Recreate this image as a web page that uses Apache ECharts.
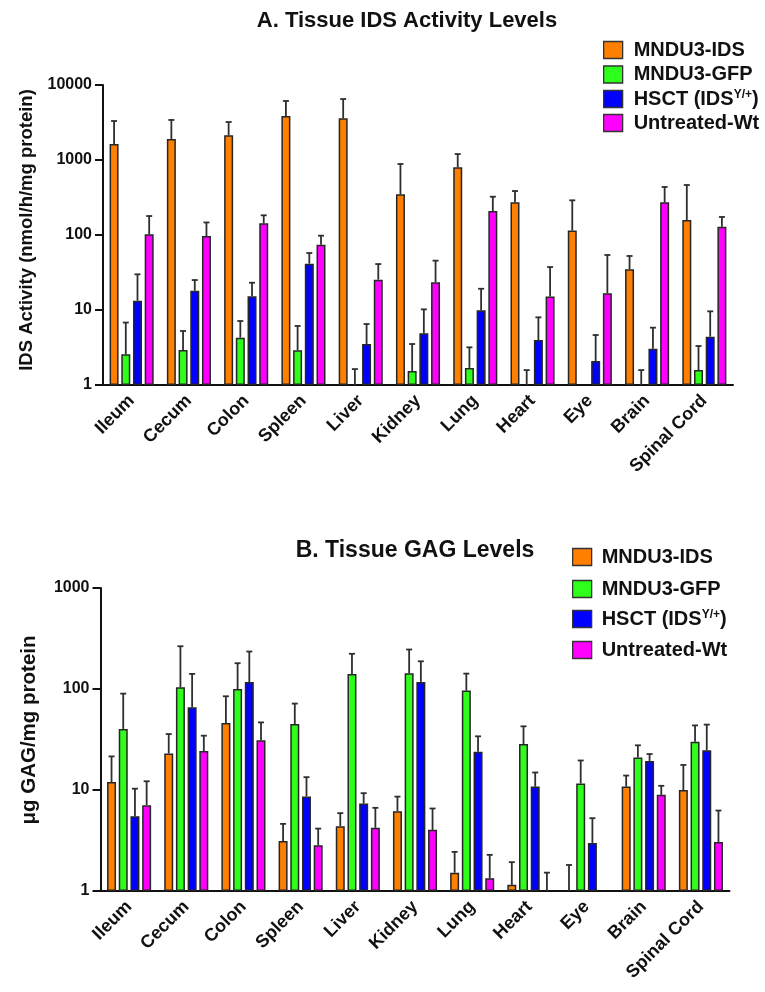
<!DOCTYPE html>
<html>
<head>
<meta charset="utf-8">
<script src="https://cdn.jsdelivr.net/npm/echarts@6/dist/echarts.min.js"></script>
<style>
html,body{margin:0;padding:0;background:#fff;}
#main{width:765px;height:992px;}
</style>
</head>
<body>
<div id="main"></div>
<script>
// ---------- DATA ----------
const categories = ['Ileum','Cecum','Colon','Spleen','Liver','Kidney','Lung','Heart','Eye','Brain','Spinal Cord'];
const seriesNames = ['MNDU3-IDS','MNDU3-GFP','HSCT (IDS Y/+)','Untreated-Wt'];
const yTicksA = [1, 10, 100, 1000, 10000];
const yTicksB = [1, 10, 100, 1000];

// A. Tissue IDS activity (nmol/h/mg protein): means and upper error-bar ends
const idsA     = [1630, 1900, 2130, 3860, 3590, 349, 798, 273, 115, 35, 158];
const idsAErr  = [3310, 3420, 3210, 6120, 6500, 885, 1200, 386, 290, 52.5, 464];
const gfpA     = [2.57, 2.93, 4.27, 2.9, null, 1.54, 1.69, null, null, null, 1.58];
const gfpAErr  = [6.8, 5.25, 7.13, 6.12, 1.63, 3.52, 3.18, 1.58, null, 1.58, 3.31];
const hsctA    = [13.3, 18.1, 15.2, 41.5, 3.52, 4.89, 9.9, 3.98, 2.09, 3.05, 4.41];
const hsctAErr = [29.9, 25.1, 23.1, 57.5, 6.5, 10.2, 19.2, 7.98, 4.64, 5.81, 9.6];
const wtA      = [102, 97, 143, 74.3, 25.4, 23.4, 209, 15.1, 16.7, 273, 129];
const wtAErr   = [179, 147, 183, 98, 41, 45.5, 324, 37.4, 54.1, 437, 174];

// B. Tissue GAG levels (ug GAG/mg protein)
const idsB     = [12.0, 23.0, 46.1, 3.13, 4.38, 6.17, 1.52, 1.15, null, 10.8, 10.0];
const idsBErr  = [21.5, 35.8, 84.7, 4.62, 5.9, 8.6, 2.44, 1.93, 1.81, 13.9, 17.7];
const gfpB     = [40.2, 104, 100, 45, 141, 143, 96.4, 28.5, 11.6, 21, 30];
const gfpBErr  = [90, 265, 180, 71.7, 223, 246, 142, 42.7, 19.6, 27.7, 43.6];
const hsctB    = [5.51, 65.9, 117, 8.63, 7.35, 117.6, 23.9, 10.8, 2.99, 19.4, 24.7];
const hsctBErr = [10.3, 141, 235, 13.4, 9.3, 188, 34, 14.9, 5.26, 22.7, 44.4];
const wtB      = [7.08, 24.3, 31, 2.84, 4.22, 4.03, 1.34, null, null, 8.96, 3.06];
const wtBErr   = [12.2, 34.5, 46.7, 4.15, 6.66, 6.56, 2.28, 1.52, null, 11, 6.26];

// ---------- STYLE ----------
const FONT = 'Liberation Sans, Arial, Helvetica, sans-serif';
const colors = ['#FF7F00', '#2EFF1A', '#0000FF', '#FF00FF'];
const BAR_W = 9;
const GAP = 0.3;
const CAP = 3;
const INK = '#111';

function barSeries(k, data, g) {
  return {
    type: 'bar', name: seriesNames[k], data: data,
    xAxisIndex: g, yAxisIndex: g,
    barWidth: BAR_W, barGap: (GAP * 100) + '%',
    itemStyle: { color: colors[k], borderColor: '#262626', borderWidth: 1.5 },
    z: 3, silent: true
  };
}
function errSeries(k, means, tops, g) {
  const data = [];
  tops.forEach((t, i) => { if (t != null) data.push([i, t, means[i] == null ? null : means[i]]); });
  return {
    type: 'custom', name: 'err' + g + '_' + k, data: data,
    xAxisIndex: g, yAxisIndex: g, z: 2, silent: true,
    dimensions: ['cat', 'top', 'mean'],
    encode: { x: 0, y: 1 },
    renderItem: function (params, api) {
      const cat = api.value(0), top = api.value(1), mean = api.value(2);
      const p = api.coord([cat, top]);
      const x = p[0] + (k - 1.5) * BAR_W * (1 + GAP);
      const yTop = p[1];
      const yBase = (mean > 0) ? api.coord([cat, mean])[1] : params.coordSys.y + params.coordSys.height;
      const st = { stroke: '#2e2e2e', lineWidth: 1.8 };
      return { type: 'group', children: [
        { type: 'line', shape: { x1: x, y1: yBase, x2: x, y2: yTop }, style: st },
        { type: 'line', shape: { x1: x - CAP, y1: yTop, x2: x + CAP, y2: yTop }, style: st }
      ]};
    }
  };
}
function xAxis(g) {
  return {
    type: 'category', gridIndex: g, data: categories,
    axisLine: { lineStyle: { color: INK, width: 2 } },
    axisTick: { alignWithLabel: true, length: 12, lineStyle: { color: INK, width: 2 } },
    axisLabel: { rotate: 45, margin: 13, color: INK, fontFamily: FONT, fontWeight: 'bold', fontSize: 18, interval: 0 }
  };
}
function yAxis(g, ticks) {
  return {
    type: 'log', logBase: 10, gridIndex: g,
    min: ticks[0], max: ticks[ticks.length - 1],
    axisLine: { show: true, lineStyle: { color: INK, width: 2 } },
    axisTick: { show: true, length: 8, lineStyle: { color: INK, width: 2 } },
    splitLine: { show: false },
    minorTick: { show: false },
    axisLabel: { margin: 11, color: INK, fontFamily: FONT, fontWeight: 'bold', fontSize: 16,
      formatter: v => String(Math.round(v)) }
  };
}
function legends(centers, left, pad) {
  return seriesNames.map((n, i) => ({
    data: [n], orient: 'vertical', left: left, top: centers[i] - 10, padding: 0,
    icon: 'rect', itemWidth: 19, itemHeight: 17, selectedMode: false,
    itemStyle: { borderColor: '#333', borderWidth: 1.3 },
    formatter: name => name === seriesNames[2] ? 'HSCT (IDS{sup|Y/+})' : name,
    textStyle: {
      color: INK, fontFamily: FONT, fontWeight: 'bold', fontSize: 20, lineHeight: 20,
      padding: [0, 0, 0, pad],
      rich: { sup: { fontFamily: FONT, fontWeight: 'bold', fontSize: 12, lineHeight: 20, verticalAlign: 'top', padding: [0, 0, 6, 0] } }
    }
  }));
}

const chart = echarts.init(document.getElementById('main'), null, { renderer: 'canvas' });
const option = {
  backgroundColor: '#fff',
  animation: false,
  grid: [
    { left: 103, top: 85, width: 630, height: 300 },
    { left: 100.5, top: 588, width: 629, height: 303 }
  ],
  xAxis: [xAxis(0), xAxis(1)],
  yAxis: [yAxis(0, yTicksA), yAxis(1, yTicksB)],
  legend: legends([50, 74.5, 99, 123], 603, 6).concat(legends([557, 589, 619, 650], 572, 5)),
  graphic: [
    { type: 'text', x: 407, y: 21, style: { text: 'A. Tissue IDS Activity Levels', font: 'bold 22px ' + FONT, fill: INK, textAlign: 'center', textVerticalAlign: 'middle' } },
    { type: 'text', x: 415, y: 551, style: { text: 'B. Tissue GAG Levels', font: 'bold 23px ' + FONT, fill: INK, textAlign: 'center', textVerticalAlign: 'middle' } },
    { type: 'text', x: 27, y: 230, rotation: Math.PI / 2, style: { text: 'IDS Activity (nmol/h/mg protein)', font: 'bold 18.5px ' + FONT, fill: INK, textAlign: 'center', textVerticalAlign: 'middle' } },
    { type: 'text', x: 29, y: 730, rotation: Math.PI / 2, style: { text: 'μg GAG/mg protein', font: 'bold 20.5px ' + FONT, fill: INK, textAlign: 'center', textVerticalAlign: 'middle' } }
  ],
  series: [
    barSeries(0, idsA, 0), barSeries(1, gfpA, 0), barSeries(2, hsctA, 0), barSeries(3, wtA, 0),
    errSeries(0, idsA, idsAErr, 0), errSeries(1, gfpA, gfpAErr, 0), errSeries(2, hsctA, hsctAErr, 0), errSeries(3, wtA, wtAErr, 0),
    barSeries(0, idsB, 1), barSeries(1, gfpB, 1), barSeries(2, hsctB, 1), barSeries(3, wtB, 1),
    errSeries(0, idsB, idsBErr, 1), errSeries(1, gfpB, gfpBErr, 1), errSeries(2, hsctB, hsctBErr, 1), errSeries(3, wtB, wtBErr, 1)
  ]
};
chart.setOption(option);
</script>
</body>
</html>
